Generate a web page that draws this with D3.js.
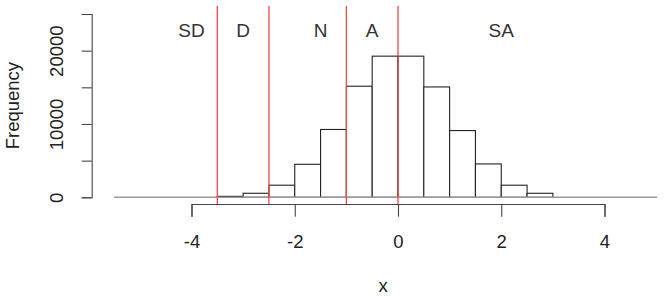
<!DOCTYPE html>
<html>
<head>
<meta charset="utf-8">
<script src="https://cdn.jsdelivr.net/npm/d3@7"></script>
<style>
body { margin: 0; background: #fff; }
svg text { font-family: "Liberation Sans", Arial, sans-serif; }
</style>
</head>
<body>
<div id="chart"></div>
<script>
// histogram of x, bins of width 0.5
var binStarts = [-3.5, -3, -2.5, -2, -1.5, -1, -0.5, 0, 0.5, 1, 1.5, 2, 2.5];
var binWidth = 0.5;
var freqs = [130, 550, 1650, 4500, 9250, 15150, 19250, 19250, 15050, 9100, 4550, 1650, 550];

// red cut lines and the zone names written above them
var cutPoints = [-3.5, -2.5, -1, 0];
var zoneLabels = ["SD", "D", "N", "A", "SA"];
var zoneLabelX = [-4, -3, -1.5, -0.5, 2];

var xTicks = [-4, -2, 0, 2, 4];
var yTicks = [0, 5000, 10000, 15000, 20000, 25000];
var yTickLabels = ["0", "", "10000", "", "20000", ""];

var W = 666, H = 296;
var plotLeft = 114, plotRight = 657, plotTop = 6, plotBottom = 204;
var axisFont = "18.5px";

var x = d3.scaleLinear().domain([-4, 4]).range([191.5, 604.5]);
var y = d3.scaleLinear().domain([0, 25000]).range([197.3, 14]);

var svg = d3.select("#chart").append("svg")
    .attr("width", W)
    .attr("height", H);

// bars
svg.append("g")
    .selectAll("rect")
    .data(binStarts)
    .enter().append("rect")
    .attr("x", function(d) { return x(d); })
    .attr("width", function(d) { return x(d + binWidth) - x(d); })
    .attr("y", function(d, i) { return y(freqs[i]); })
    .attr("height", function(d, i) { return y(0) - y(freqs[i]); })
    .attr("fill", "#fff")
    .attr("stroke", "#222")
    .attr("stroke-width", 1.1);

// zero line across the plot
svg.append("line")
    .attr("x1", plotLeft).attr("x2", plotRight)
    .attr("y1", y(0)).attr("y2", y(0))
    .attr("stroke", "#999")
    .attr("stroke-width", 1.6);

// cut lines
svg.append("g")
    .selectAll("line")
    .data(cutPoints)
    .enter().append("line")
    .attr("x1", function(d) { return x(d); })
    .attr("x2", function(d) { return x(d); })
    .attr("y1", plotTop).attr("y2", plotBottom)
    .attr("stroke", "#f04848")
    .attr("stroke-width", 1.3);

// zone labels
svg.append("g")
    .selectAll("text")
    .data(zoneLabels)
    .enter().append("text")
    .attr("x", function(d, i) { return x(zoneLabelX[i]); })
    .attr("y", 36.5)
    .attr("text-anchor", "middle")
    .attr("fill", "#333")
    .style("font-size", "19px")
    .text(function(d) { return d; });

// x axis
var gx = svg.append("g")
    .attr("transform", "translate(0," + plotBottom + ")")
    .call(d3.axisBottom(x).tickValues(xTicks).tickSize(12.7).tickPadding(18)
        .tickFormat(function(d) { return d; }));
gx.selectAll(".domain, .tick line").attr("stroke", "#444").attr("stroke-width", 1.1);
gx.selectAll(".tick text").attr("fill", "#222").style("font-size", axisFont);
gx.attr("font-family", null).attr("font-size", null);

// y axis
var gy = svg.append("g")
    .attr("transform", "translate(91.7,0)")
    .call(d3.axisLeft(y).tickValues(yTicks).tickSize(10)
        .tickFormat(function(d, i) { return yTickLabels[i]; }));
gy.selectAll(".domain, .tick line").attr("stroke", "#444").attr("stroke-width", 1.1);
gy.selectAll(".tick text")
    .attr("x", null).attr("y", null).attr("dy", null)
    .attr("text-anchor", "middle")
    .attr("transform", "translate(-28.2,0) rotate(-90)")
    .attr("fill", "#222")
    .style("font-size", axisFont);
gy.attr("font-family", null).attr("font-size", null);

// axis titles
svg.append("text")
    .attr("x", 383).attr("y", 292)
    .attr("text-anchor", "middle")
    .attr("fill", "#222")
    .style("font-size", axisFont)
    .text("x");

svg.append("text")
    .attr("transform", "translate(19,105.6) rotate(-90)")
    .attr("text-anchor", "middle")
    .attr("fill", "#222")
    .style("font-size", axisFont)
    .text("Frequency");
</script>
</body>
</html>
